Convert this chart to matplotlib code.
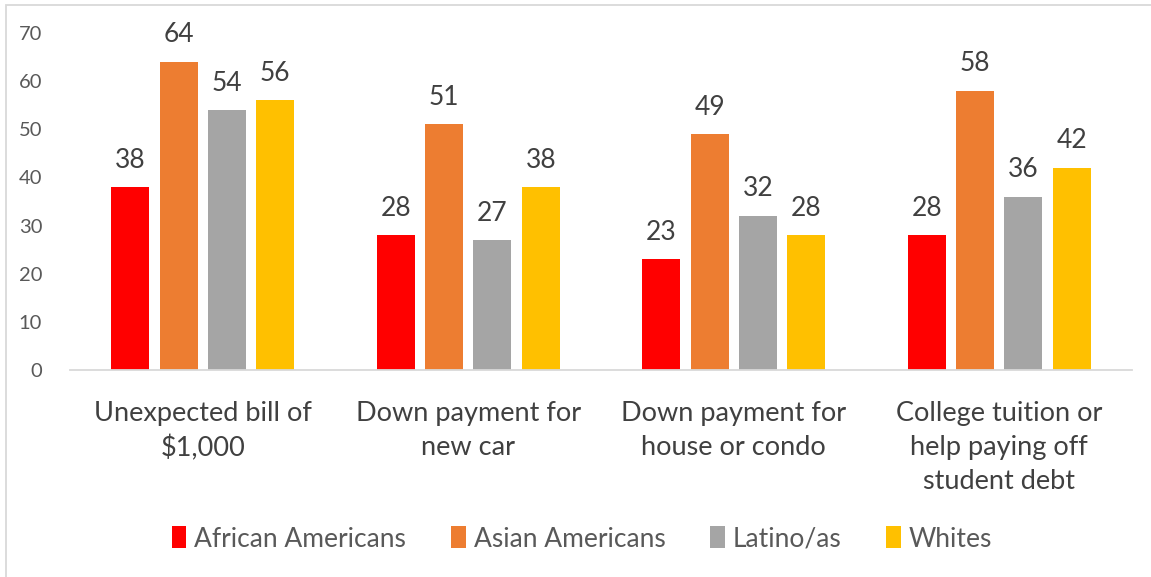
import numpy as np
import matplotlib.pyplot as plt
import matplotlib.patches as patches

plt.rcParams['font.family'] = ['Lato', 'DejaVu Sans']

categories = ['Unexpected bill of\n$1,000', 'Down payment for\nnew car',
              'Down payment for\nhouse or condo',
              'College tuition or\nhelp paying off\nstudent debt']
groups = ['African Americans', 'Asian Americans', 'Latino/as', 'Whites']
african = [38, 28, 23, 28]
asian = [64, 51, 49, 58]
latino = [54, 27, 32, 36]
whites = [56, 38, 28, 42]
colors = ['#FF0000', '#ED7D31', '#A5A5A5', '#FFC000']

txt = '#595959'

fig = plt.figure(figsize=(11.51, 5.77), dpi=100)
ax = fig.add_axes([70 / 1151, 1 - 370 / 577, 1062 / 1151, 337 / 577])

x = np.arange(len(categories))
w = 0.143
step = 0.182
for i, (vals, c) in enumerate(zip([african, asian, latino, whites], colors)):
    pos = x + (i - 1.5) * step
    bars = ax.bar(pos, vals, w, color=c, label=groups[i])
    for b, v in zip(bars, vals):
        ax.text(b.get_x() + b.get_width() / 2, v + 3.0, str(v),
                ha='center', va='bottom', fontsize=19, color='#404040')

ax.set_xlim(-0.5, 3.5)
ax.set_ylim(0, 70)
ax.set_yticks(range(0, 71, 10))
ax.set_xticks(x)
ax.set_xticklabels(categories, fontsize=19.5, color='#404040', linespacing=1.45)
ax.tick_params(axis='y', length=0, labelsize=14.5, labelcolor=txt, pad=20)
ax.tick_params(axis='x', length=0, pad=22)
for s in ['top', 'right', 'left']:
    ax.spines[s].set_visible(False)
ax.spines['bottom'].set_color('#D9D9D9')
ax.spines['bottom'].set_linewidth(1.3)

fig.legend(loc='center', bbox_to_anchor=(582 / 1151, 1 - 539 / 577), ncol=4,
           frameon=False, fontsize=19, labelcolor=txt, handlelength=0.55,
           handleheight=0.9, handletextpad=0.3, columnspacing=1.7)

# chart frame
fig.patches.append(patches.Rectangle((6 / 1151, -0.02), 1.05, 1 - 5 / 577 + 0.02,
                                     transform=fig.transFigure, fill=False,
                                     edgecolor='#D9D9D9', linewidth=1.3))

fig.savefig('out.png', dpi=100)
